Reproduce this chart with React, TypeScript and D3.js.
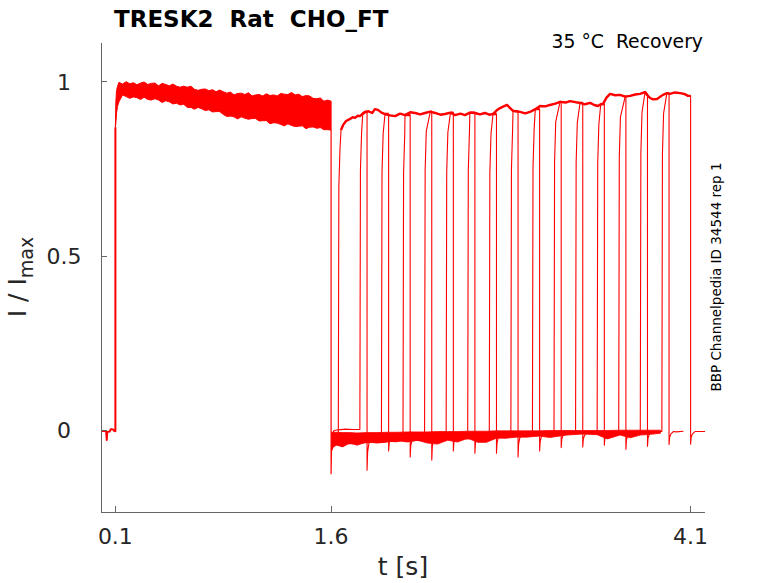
import * as d3 from "d3";

type P = [number, number];

// sweep timing (s)
const RISE_T = [1.65, 1.8, 1.95, 2.1, 2.25, 2.4, 2.55, 2.7, 2.85, 3.0, 3.15, 3.3, 3.45, 3.6, 3.75, 3.9];
const PULSE_DUR = 0.2;
const POST_DUR = 0.1;
// level shift of each sweep between pulses, and the tail spike after each pulse
const SWEEP_OFFSET = [0, 0.027, 0, 0, 0, -0.014, 0, -0.012, -0.01, 0, 0, 0, 0, 0, 0, 0];
const TAIL_I = [-0.115, -0.06, -0.077, -0.086, -0.06, -0.066, -0.066, -0.077, -0.06, -0.05, -0.048, -0.043, -0.055, -0.046, -0.041, -0.04];

// activation / tail shape
const RISE_DT = [0, 0.004, 0.012];
const RISE_FRAC = [0, 0.82, 0.94];
const TAIL_DT = [0, 0.004, 0.012, 0.03];
const TAIL_FRAC = [1, 0.45, 0.2, 0];

// holding level before the prepulse
const PRE_BASE_T = [0, 0.02, 0.036, 0.04, 0.043, 0.06, 0.068, 0.085, 0.092, 0.1];
const PRE_BASE_I = [-0.003, -0.002, -0.004, -0.028, -0.005, -0.004, 0.003, 0.002, -0.002, -0.003];

// prepulse band (all sweeps overlaid)
const PRE_T = [
  0.1, 0.103, 0.108, 0.115, 0.125, 0.15, 0.175, 0.2, 0.225, 0.25, 0.275, 0.3, 0.325, 0.35, 0.375, 0.4, 0.425, 0.45, 0.475,
  0.5, 0.525, 0.55, 0.575, 0.6, 0.625, 0.65, 0.675, 0.7, 0.725, 0.75, 0.775, 0.8, 0.825, 0.85, 0.875, 0.9, 0.925, 0.95,
  0.975, 1.0, 1.025, 1.05, 1.075, 1.1, 1.125, 1.15, 1.175, 1.2, 1.225, 1.25, 1.275, 1.3, 1.325, 1.35, 1.375, 1.4, 1.425,
  1.45, 1.475, 1.5, 1.525, 1.55, 1.575, 1.6,
];
const PRE_HI = [
  0.87, 0.94, 0.975, 0.988, 0.999, 0.994, 1.001, 0.995, 0.998, 0.992, 0.997, 1.0, 0.993, 0.996, 0.997, 0.989, 0.996, 0.993,
  0.989, 0.994, 0.988, 0.985, 0.988, 0.985, 0.988, 0.979, 0.976, 0.979, 0.98, 0.975, 0.978, 0.972, 0.977, 0.972, 0.968,
  0.971, 0.963, 0.967, 0.968, 0.964, 0.969, 0.96, 0.963, 0.964, 0.96, 0.966, 0.961, 0.963, 0.96, 0.967, 0.965, 0.964,
  0.97, 0.963, 0.965, 0.958, 0.961, 0.96, 0.953, 0.952, 0.954, 0.945, 0.948, 0.945,
];
const PRE_LO = [
  0.87, 0.88, 0.91, 0.93, 0.943, 0.963, 0.958, 0.953, 0.957, 0.955, 0.95, 0.956, 0.95, 0.948, 0.952, 0.948, 0.941, 0.946,
  0.943, 0.937, 0.939, 0.934, 0.936, 0.927, 0.927, 0.922, 0.927, 0.923, 0.918, 0.92, 0.914, 0.915, 0.915, 0.907, 0.901,
  0.902, 0.9, 0.894, 0.9, 0.896, 0.893, 0.895, 0.895, 0.888, 0.889, 0.889, 0.88, 0.883, 0.882, 0.878, 0.874, 0.88,
  0.875, 0.872, 0.873, 0.874, 0.866, 0.87, 0.871, 0.867, 0.869, 0.863, 0.863, 0.862,
];
const PRE_DROP_MIN = -0.125;

// level between pulses
const BASE_T = [1.603, 1.62, 1.65, 1.7, 1.75, 1.8, 1.85, 1.9, 1.95, 2.0, 2.05, 2.1, 2.15, 2.2, 2.25, 2.3, 2.35, 2.4, 2.45, 2.5, 2.55, 2.6, 2.65, 2.7, 2.75, 2.8, 2.85, 2.9, 2.95, 3.0, 3.05, 3.1, 3.15, 3.2, 3.25, 3.3, 3.35, 3.4, 3.45, 3.5, 3.55, 3.6, 3.65, 3.7, 3.75, 3.8, 3.85, 3.9, 3.95, 4.0, 4.05, 4.1, 4.15, 4.2];
const BASE_I = [-0.045, -0.028, -0.026, -0.024, -0.025, -0.021, -0.022, -0.019, -0.021, -0.018, -0.019, -0.016, -0.018, -0.015, -0.016, -0.014, -0.015, -0.013, -0.014, -0.012, -0.013, -0.011, -0.012, -0.01, -0.011, -0.009, -0.01, -0.009, -0.009, -0.008, -0.009, -0.007, -0.008, -0.007, -0.007, -0.006, -0.007, -0.006, -0.006, -0.005, -0.006, -0.005, -0.005, -0.004, -0.005, -0.004, -0.004, -0.004, -0.004, -0.005, -0.003, -0.004, -0.004, -0.003];

// noise band of the overlaid holding traces
const BAND_T = [1.603, 1.64, 1.68, 1.73, 1.78, 1.85, 1.92, 1.99, 2.06, 2.13, 2.2, 2.27, 2.34, 2.41, 2.48, 2.55, 2.62, 2.68, 2.75, 2.82, 2.89, 2.96, 3.05, 3.12, 3.24, 3.35, 3.45, 3.52, 3.61, 3.68, 3.75, 3.82, 3.89];
const BAND_HI = [-0.006, -0.006, -0.007, -0.007, -0.008, -0.007, -0.007, -0.006, -0.006, -0.005, -0.005, -0.005, -0.004, -0.004, -0.004, -0.003, -0.003, -0.003, -0.002, -0.002, -0.002, -0.002, -0.002, -0.001, -0.001, -0.001, -0.001, -0.001, 0, 0, 0, 0, 0];
const BAND_LO = [-0.05, -0.043, -0.048, -0.037, -0.043, -0.034, -0.037, -0.034, -0.029, -0.034, -0.029, -0.037, -0.04, -0.029, -0.034, -0.023, -0.035, -0.035, -0.023, -0.023, -0.02, -0.02, -0.017, -0.021, -0.014, -0.011, -0.013, -0.025, -0.014, -0.022, -0.014, -0.012, -0.009];

// level reached during the test pulses
const ENV_T = [1.669, 1.683, 1.704, 1.732, 1.75, 1.766, 1.785, 1.801, 1.82, 1.836, 1.86, 1.885, 1.905, 1.926, 1.95, 1.975, 2.01, 2.045, 2.08, 2.114, 2.15, 2.184, 2.22, 2.253, 2.29, 2.323, 2.36, 2.392, 2.43, 2.462, 2.5, 2.531, 2.565, 2.601, 2.635, 2.67, 2.7, 2.726, 2.75, 2.775, 2.8, 2.823, 2.845, 2.865, 2.89, 2.914, 2.95, 2.983, 3.02, 3.053, 3.09, 3.122, 3.16, 3.192, 3.23, 3.261, 3.3, 3.331, 3.365, 3.401, 3.43, 3.456, 3.475, 3.491, 3.515, 3.54, 3.575, 3.609, 3.645, 3.679, 3.715, 3.748, 3.783, 3.8, 3.818, 3.84, 3.866, 3.89, 3.908, 3.935, 3.957, 3.99, 4.026, 4.055, 4.082, 4.1];
const ENV_I = [0.862, 0.876, 0.888, 0.894, 0.899, 0.897, 0.903, 0.902, 0.909, 0.914, 0.916, 0.911, 0.922, 0.92, 0.912, 0.908, 0.904, 0.902, 0.909, 0.905, 0.913, 0.911, 0.907, 0.911, 0.915, 0.911, 0.906, 0.908, 0.912, 0.905, 0.909, 0.905, 0.912, 0.911, 0.907, 0.911, 0.906, 0.908, 0.918, 0.925, 0.93, 0.934, 0.925, 0.917, 0.916, 0.914, 0.91, 0.914, 0.922, 0.931, 0.93, 0.934, 0.938, 0.943, 0.941, 0.945, 0.942, 0.94, 0.936, 0.94, 0.934, 0.931, 0.936, 0.937, 0.955, 0.966, 0.962, 0.963, 0.958, 0.96, 0.964, 0.966, 0.971, 0.962, 0.954, 0.95, 0.951, 0.958, 0.963, 0.968, 0.966, 0.97, 0.968, 0.966, 0.96, 0.962];

const X_TICKS = [0.1, 1.6, 4.1];
const X_TICK_LABELS = ["0.1", "1.6", "4.1"];
const Y_TICKS = [0, 0.5, 1];
const Y_TICK_LABELS = ["0", "0.5", "1"];

const W = 778;
const H = 583;
const RED = "#ff0000";
const FONT = "'DejaVu Sans', 'Liberation Sans', sans-serif";

const x = d3.scaleLinear().domain([0, 4.2]).range([101, 705]);
const y = d3.scaleLinear().domain([-0.235, 1.112]).range([512, 43]);

const line = d3.line<P>().x((d) => x(d[0])).y((d) => y(d[1]));

const zip = (t: number[], v: number[]): P[] => t.map((ti, i) => [ti, v[i]]);
const basePts = zip(BASE_T, BASE_I);
const envPts = zip(ENV_T, ENV_I);

function baseAt(t: number): number {
  const before = basePts.filter((p) => p[0] <= t);
  return before.length ? before[before.length - 1][1] : BASE_I[0];
}

function sweep(k: number): { all: P[]; pulse: P[] } {
  const r = RISE_T[k];
  const d = r + PULSE_DUR;
  const end = d + POST_DUR;
  const off = SWEEP_OFFSET[k];
  const pts: P[] = basePts.filter((p) => p[0] < r).map((p) => [p[0], p[1] + off] as P);
  const b = pts.length ? pts[pts.length - 1][1] : BASE_I[0];
  const env = envPts.filter((p) => p[0] > r + RISE_DT[RISE_DT.length - 1] && p[0] < d);
  const e0 = env[0][1];
  RISE_DT.forEach((dt, i) => pts.push([r + dt, b + RISE_FRAC[i] * (e0 - b)]));
  const pulse: P[] = [...env, [d, env[env.length - 1][1]]];
  pts.push(...pulse);
  const bd = baseAt(d);
  TAIL_DT.forEach((dt, i) => pts.push([d + dt, bd + TAIL_FRAC[i] * (TAIL_I[k] - bd)]));
  const lastDt = TAIL_DT[TAIL_DT.length - 1];
  pts.push(...basePts.filter((p) => p[0] > d + lastDt && p[0] < end));
  pts.push([end, baseAt(end)]);
  return { all: pts, pulse };
}

const pre: React.CSSProperties = { whiteSpace: "pre" };

export default function App() {
  const preBand = d3
    .area<number>()
    .x((i) => x(PRE_T[i]))
    .y0((i) => y(PRE_LO[i]))
    .y1((i) => y(PRE_HI[i]))(PRE_T.map((_, i) => i));
  const holdBand = d3
    .area<number>()
    .x((i) => x(BAND_T[i]))
    .y0((i) => y(BAND_LO[i]))
    .y1((i) => y(BAND_HI[i]))(BAND_T.map((_, i) => i));

  const preBase: P[] = [...zip(PRE_BASE_T, PRE_BASE_I), [PRE_T[0], PRE_HI[0]]];
  const preDrop: P[] = [
    [PRE_T[PRE_T.length - 1], PRE_LO[PRE_LO.length - 1]],
    [PRE_T[PRE_T.length - 1], PRE_DROP_MIN],
    [BASE_T[0], BASE_I[0]],
  ];
  const sweeps = RISE_T.map((_, k) => sweep(k));

  return (
    <svg
      width={W}
      height={H}
      viewBox={`0 0 ${W} ${H}`}
      style={{ position: "absolute", left: 0, top: 0, background: "#fff" }}
      fontFamily={FONT}
    >
      <rect width={W} height={H} fill="#fff" />

      {/* traces */}
      <g fill="none" stroke={RED} strokeLinejoin="round">
        <path d={preBand ?? ""} fill={RED} stroke={RED} strokeWidth={1} />
        <path d={holdBand ?? ""} fill={RED} stroke={RED} strokeWidth={0.8} />
        <path d={line(preBase) ?? ""} strokeWidth={2} />
        <path d={line(preDrop) ?? ""} strokeWidth={1.2} />
        {sweeps.map((s, k) => (
          <g key={k}>
            <path d={line(s.all) ?? ""} strokeWidth={1.1} />
            <path d={line(s.pulse) ?? ""} strokeWidth={2.4} />
          </g>
        ))}
      </g>

      {/* axes */}
      <g stroke="#666" strokeWidth={1} fill="none" shapeRendering="crispEdges">
        <line x1={101} x2={101} y1={43} y2={512} />
        <line x1={101} x2={705} y1={512} y2={512} />
        {X_TICKS.map((t) => (
          <line key={t} x1={x(t)} x2={x(t)} y1={512} y2={506} />
        ))}
        {Y_TICKS.map((v) => (
          <line key={v} x1={101} x2={107} y1={y(v)} y2={y(v)} />
        ))}
      </g>

      <g fill="#262626" fontSize={22}>
        {X_TICKS.map((t, i) => (
          <text key={t} x={x(t)} y={544} textAnchor="middle">
            {X_TICK_LABELS[i]}
          </text>
        ))}
        {Y_TICKS.map((v, i) => (
          <text key={v} x={64} y={y(v)} dy="0.36em" textAnchor="middle">
            {Y_TICK_LABELS[i]}
          </text>
        ))}
      </g>

      <text x={403} y={575} textAnchor="middle" fontSize={25} fill="#262626">
        t [s]
      </text>
      <text transform="translate(26,277) rotate(-90)" textAnchor="middle" fontSize={25} fill="#262626">
        I / I
        <tspan fontSize={19} dy={7}>
          max
        </tspan>
      </text>

      <text x={114} y={27} fontSize={23} fontWeight="bold" fill="#000" xmlSpace="preserve" style={pre}>
        {"TRESK2  Rat  CHO_FT"}
      </text>
      <text x={703} y={48} fontSize={18.8} textAnchor="end" fill="#000" xmlSpace="preserve" style={pre}>
        {"35 °C  Recovery"}
      </text>
      <text transform="translate(721,277) rotate(-90)" fontSize={13.5} textAnchor="middle" fill="#000">
        BBP Channelpedia ID 34544 rep 1
      </text>
    </svg>
  );
}
